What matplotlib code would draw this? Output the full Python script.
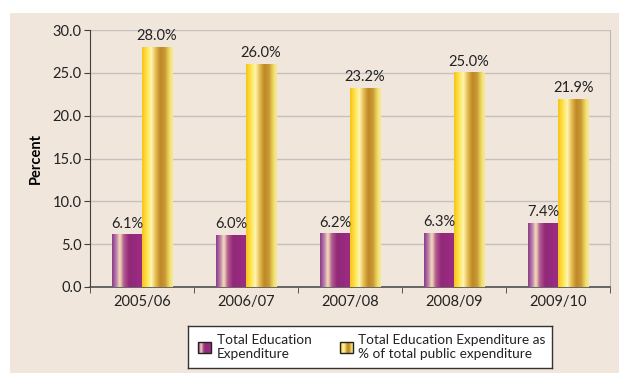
import numpy as np
import matplotlib
matplotlib.use("Agg")
import matplotlib.pyplot as plt
from matplotlib.colors import LinearSegmentedColormap
from matplotlib.patches import Rectangle

plt.rcParams["font.family"] = ["Lato", "DejaVu Sans"]

years = ["2005/06", "2006/07", "2007/08", "2008/09", "2009/10"]
edu_share_gdp = [6.1, 6.0, 6.2, 6.3, 7.4]
edu_share_public = [28.0, 26.0, 23.2, 25.0, 21.9]
series_names = ["Total Education\nExpenditure",
                "Total Education Expenditure as\n% of total public expenditure"]

purple_cm = LinearSegmentedColormap.from_list("purple_tube", [
    (0.00, "#8a3c8c"), (0.12, "#b878a8"), (0.25, "#f3e2b8"),
    (0.38, "#b45c92"), (0.55, "#922878"), (1.00, "#9c2c84")])
gold_cm = LinearSegmentedColormap.from_list("gold_tube", [
    (0.00, "#f6c41a"), (0.15, "#ffe24a"), (0.30, "#fff6b4"),
    (0.45, "#e2b84c"), (0.60, "#bf8828"), (0.75, "#c99a32"),
    (0.90, "#f0de6c"), (1.00, "#f7ea92")])
ramp = np.linspace(0, 1, 64).reshape(1, -1)

W, H, DPI = 619, 373, 100
fig = plt.figure(figsize=(W / DPI, H / DPI), dpi=DPI, facecolor="white")
fig.patches.append(Rectangle((10 / W, 0), 1, 1 - 13 / H, transform=fig.transFigure,
                             facecolor="#f1e6dc", edgecolor="none", zorder=-10))

ax = fig.add_axes([90 / W, 1 - 287 / H, 520 / W, 257 / H])
ax.set_facecolor("#f1e6dc")

bar_w = 0.29
x = np.arange(len(years))


def tube(ax, x0, width, height, cmap):
    ax.imshow(ramp, cmap=cmap, extent=(x0, x0 + width, 0, height),
              aspect="auto", interpolation="bilinear", zorder=3)


for xi, v1, v2 in zip(x, edu_share_gdp, edu_share_public):
    tube(ax, xi - bar_w, bar_w, v1, purple_cm)
    tube(ax, xi, bar_w, v2, gold_cm)
    ax.annotate(f"{v1:.1f}%", (xi - bar_w / 2, v1), xytext=(0, 3),
                textcoords="offset points", ha="center", va="bottom",
                fontsize=10.5, color="#222222")
    ax.annotate(f"{v2:.1f}%", (xi + bar_w / 2, v2), xytext=(0, 3),
                textcoords="offset points", ha="center", va="bottom",
                fontsize=10.5, color="#222222")

ax.set_xlim(-0.5, len(years) - 0.5)
ax.set_ylim(0, 30)
ax.set_yticks(np.arange(0, 30.1, 5))
ax.set_yticklabels([f"{t:.1f}" for t in np.arange(0, 30.1, 5)])
ax.set_xticks(x)
ax.set_xticklabels(years)
ax.set_xticks(np.arange(-0.5, len(years)), minor=True)
ax.tick_params(axis="x", which="major", length=0, pad=6, labelsize=10.5, colors="#222222")
ax.tick_params(axis="x", which="minor", length=4, direction="out", color="#404040")
ax.tick_params(axis="y", length=4, direction="out", color="#404040",
               labelsize=10.5, labelcolor="#222222", pad=2)
ax.yaxis.grid(True, color="#c4c2c0", linewidth=1)
ax.set_axisbelow(True)
ax.spines["top"].set_visible(False)
ax.spines["right"].set_color("#b8b8b8")
ax.spines["left"].set_color("#404040")
ax.spines["bottom"].set_color("#505050")
ax.spines["bottom"].set_linewidth(1.2)
ax.set_ylabel("Percent", fontsize=10.5, fontweight="bold", labelpad=7)

# legend box drawn by hand so the swatches can carry the same gradients
lg = fig.add_axes([188 / W, 1 - 368 / H, 364 / W, 42 / H])
lg.set_facecolor("white")
for s in lg.spines.values():
    s.set_color("#333333")
    s.set_linewidth(1)
lg.set_xticks([])
lg.set_yticks([])
for (sx, tx), cmap, name in zip([(10, 29), (152, 170)], [purple_cm, gold_cm], series_names):
    lg.imshow(ramp, cmap=cmap, extent=(sx, sx + 13, 27, 16), aspect="auto",
              interpolation="bilinear")
    lg.add_patch(Rectangle((sx, 16), 13, 11, fill=False, edgecolor="#222222", linewidth=1))
    lg.text(tx, 21, name, fontsize=9.8, va="center", ha="left", color="#222222",
            linespacing=1.3)
lg.set_xlim(0, 364)
lg.set_ylim(42, 0)

fig.savefig("out.png", dpi=DPI, facecolor="white")
